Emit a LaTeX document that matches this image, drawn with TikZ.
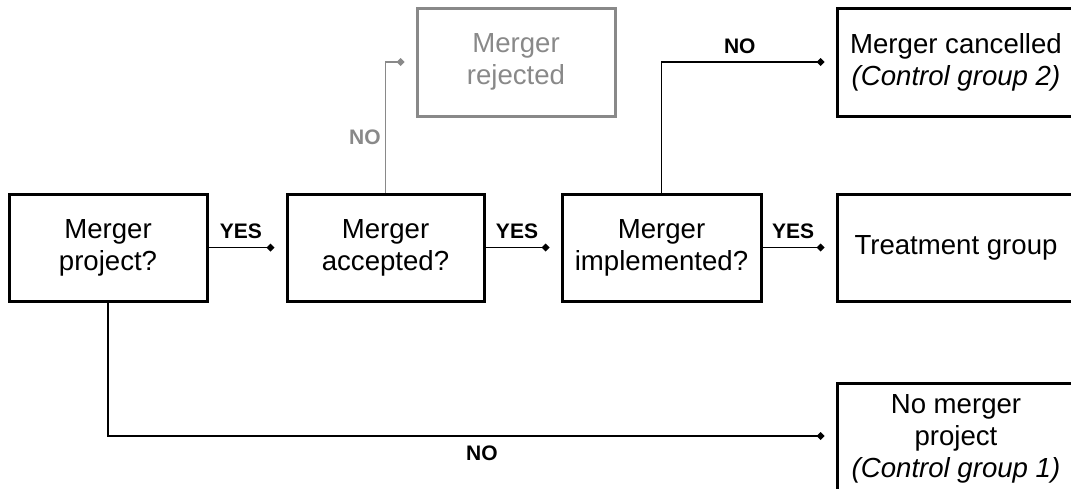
\documentclass[tikz,border=0pt]{standalone}
\usepackage{fontspec}
\setmainfont{Liberation Sans}
\usetikzlibrary{arrows.meta}
\definecolor{rejgray}{RGB}{137,137,137}
\begin{document}
\begin{tikzpicture}[x=1pt,y=-1pt,
  box/.style={draw=black,line width=3pt,rectangle,inner sep=0pt,align=center,
    font=\fontsize{27.6}{32}\selectfont},
  conn/.style={line width=1.8pt,-{Diamond[length=8pt,width=8pt]},shorten >=11pt},
  lbl/.style={font=\fontsize{21}{24}\selectfont\bfseries,inner sep=0pt}
]
\useasboundingbox (0,0) rectangle (1071,488);
\node[box,minimum width=198pt,minimum height=107pt] (b1) at (108,247.5) {Merger\\project?};
\node[box,minimum width=197pt,minimum height=107pt] (b2) at (385.5,247.5) {Merger\\accepted?};
\node[box,minimum width=199pt,minimum height=107pt] (b3) at (661.5,247.5) {Merger\\implemented?};
\node[box,minimum width=238pt,minimum height=107pt] (tr) at (956,247.5) {Treatment group};
\node[box,draw=rejgray,text=rejgray,minimum width=198pt,minimum height=108pt] (rej) at (516,62) {Merger\\rejected};
\node[box,minimum width=238pt,minimum height=108pt] (canc) at (956,62) {Merger cancelled\\\textit{(Control group 2)}};
\node[box,minimum width=238pt,minimum height=112pt] (nm) at (956,439) {No merger\\project\\\textit{(Control group 1)}};

\draw[conn] (b1.east) -- node[lbl,pos=0.42,above=8pt] (y1) {YES} (b2.west);
\draw[conn] (b2.east) -- node[lbl,pos=0.42,above=8pt] (y2) {YES} (b3.west);
\draw[conn] (b3.east) -- node[lbl,pos=0.42,above=8pt] (y3) {YES} (tr.west);
\draw[conn,color=rejgray] (b2.north) |- node[lbl,text=rejgray,pos=0.213,left=4pt] (n1) {NO} (rej.west);
\draw[conn] (b3.north) |- node[lbl,pos=0.725,above=7pt] (n2) {NO} (canc.west);
\draw[conn] (b1.south) |- node[lbl,pos=0.757,below=9pt] (n3) {NO} ([yshift=3pt]nm.west);
\end{tikzpicture}
\end{document}
